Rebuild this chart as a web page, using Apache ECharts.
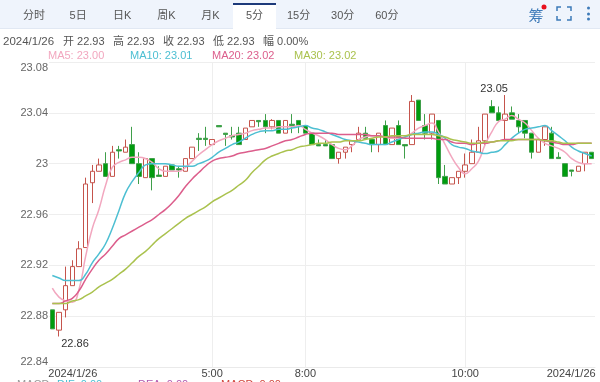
<!DOCTYPE html>
<html lang="en">
<head>
    <meta charset="UTF-8">
    <title>5分K线</title>
    <script src="https://cdn.jsdelivr.net/npm/echarts@6/dist/echarts.min.js"></script>
    <style>
        html, body { margin: 0; padding: 0; background: #fff; overflow: hidden; }
        #main { width: 600px; height: 382px; }
    </style>
</head>
<body>
    <div id="main"></div>
    <script>
        const opens = [
            22.885, 22.869, 22.885, 22.904, 22.919, 22.934, 22.985, 22.994, 23.000, 22.990,
            23.011, 23.009, 23.015, 23.000, 22.989, 23.004, 22.991, 22.990, 22.999, 22.996,
            22.994, 23.004, 23.020, 23.020, 23.015, 23.030, 23.024, 23.022, 23.024, 23.019,
            23.029, 23.034, 23.034, 23.029, 23.034, 23.024, 23.031, 23.034, 23.030, 23.024,
            23.015, 23.015, 23.015, 23.004, 23.009, 23.015, 23.019, 23.024, 23.019, 23.015,
            23.030, 23.015, 23.030, 23.015, 23.015, 23.050, 23.030, 23.024, 23.034, 22.990,
            22.984, 22.989, 22.994, 23.000, 23.009, 23.018, 23.045, 23.040, 23.034, 23.040,
            23.034, 23.034, 23.024, 23.009, 23.019, 23.024, 23.005, 23.000, 22.995, 22.994,
            23.000, 23.009
        ];
        const closes = [
            22.870, 22.883, 22.904, 22.919, 22.933, 22.984, 22.994, 22.999, 22.990, 23.009,
            23.010, 23.013, 23.000, 22.990, 23.004, 22.989, 22.990, 22.998, 22.995, 22.995,
            23.004, 23.013, 23.019, 23.019, 23.019, 23.029, 23.023, 23.021, 23.015, 23.028,
            23.034, 23.033, 23.029, 23.034, 23.024, 23.034, 23.030, 23.030, 23.024, 23.015,
            23.014, 23.014, 23.004, 23.009, 23.013, 23.018, 23.024, 23.020, 23.015, 23.024,
            23.015, 23.028, 23.015, 23.014, 23.049, 23.034, 23.024, 23.039, 22.989, 22.984,
            22.989, 22.994, 22.999, 23.009, 23.018, 23.039, 23.040, 23.034, 23.039, 23.035,
            23.029, 23.024, 23.009, 23.019, 23.029, 23.004, 23.004, 22.990, 22.994, 22.998,
            23.009, 23.004
        ];
        const lows = [
            22.870, 22.864, 22.879, 22.904, 22.919, 22.934, 22.969, 22.994, 22.990, 22.990,
            23.004, 23.009, 23.000, 22.984, 22.989, 22.979, 22.990, 22.990, 22.995, 22.989,
            22.994, 23.004, 23.010, 23.014, 23.015, 23.029, 23.014, 23.019, 23.015, 23.019,
            23.029, 23.029, 23.024, 23.027, 23.024, 23.024, 23.024, 23.024, 23.024, 23.015,
            23.014, 23.014, 23.004, 23.000, 23.004, 23.009, 23.019, 23.020, 23.009, 23.009,
            23.015, 23.015, 23.015, 23.004, 23.015, 23.034, 23.019, 23.019, 22.984, 22.984,
            22.984, 22.984, 22.989, 23.000, 23.009, 23.014, 23.040, 23.034, 23.018, 23.035,
            23.024, 23.020, 23.004, 23.009, 23.014, 23.004, 23.004, 22.990, 22.990, 22.994,
            22.994, 23.004
        ];
        const highs = [
            22.885, 22.883, 22.919, 22.924, 22.939, 22.989, 22.999, 23.004, 23.009, 23.014,
            23.014, 23.019, 23.029, 23.009, 23.004, 23.004, 22.998, 22.998, 22.999, 22.998,
            23.004, 23.013, 23.024, 23.029, 23.019, 23.030, 23.024, 23.029, 23.029, 23.028,
            23.034, 23.034, 23.039, 23.035, 23.034, 23.034, 23.039, 23.034, 23.030, 23.024,
            23.019, 23.019, 23.015, 23.009, 23.013, 23.018, 23.029, 23.029, 23.019, 23.024,
            23.034, 23.028, 23.034, 23.015, 23.054, 23.050, 23.039, 23.039, 23.034, 22.999,
            22.989, 22.994, 23.008, 23.019, 23.029, 23.039, 23.050, 23.045, 23.054, 23.045,
            23.039, 23.034, 23.024, 23.019, 23.029, 23.029, 23.009, 23.000, 22.995, 22.998,
            23.009, 23.009
        ];
        const ma5 = [
            22.902, 22.895, 22.892, 22.891, 22.901, 22.927, 22.949, 22.964, 22.983, 22.997,
            23.001, 23.003, 23.005, 23.005, 23.004, 23.001, 22.996, 22.994, 22.994, 22.994,
            22.997, 23.002, 23.007, 23.011, 23.015, 23.018, 23.020, 23.022, 23.023, 23.024,
            23.026, 23.027, 23.028, 23.028, 23.029, 23.029, 23.029, 23.030, 23.027, 23.024,
            23.022, 23.019, 23.015, 23.012, 23.011, 23.014, 23.019, 23.021, 23.022, 23.022,
            23.021, 23.020, 23.020, 23.021, 23.024, 23.028, 23.030, 23.032, 23.025, 23.015,
            23.005, 22.997, 22.992, 22.996, 23.002, 23.015, 23.025, 23.033, 23.035, 23.038,
            23.035, 23.032, 23.026, 23.020, 23.016, 23.014, 23.012, 23.009, 23.004, 23.001,
            23.000, 23.000
        ];
        const ma10 = [
            22.912, 22.910, 22.908, 22.908, 22.908, 22.913, 22.922, 22.929, 22.937, 22.949,
            22.963, 22.977, 22.986, 22.993, 22.999, 23.000, 23.000, 23.000, 22.999, 22.998,
            22.998, 22.998, 23.000, 23.002, 23.005, 23.009, 23.012, 23.015, 23.017, 23.020,
            23.023, 23.025, 23.026, 23.026, 23.027, 23.027, 23.028, 23.029, 23.030, 23.028,
            23.027, 23.025, 23.023, 23.021, 23.019, 23.018, 23.017, 23.016, 23.015, 23.015,
            23.015, 23.017, 23.019, 23.021, 23.023, 23.024, 23.025, 23.025, 23.023, 23.020,
            23.015, 23.013, 23.012, 23.010, 23.009, 23.008, 23.009, 23.010, 23.015, 23.020,
            23.024, 23.027, 23.028, 23.029, 23.030, 23.026, 23.022, 23.018, 23.013, 23.010,
            23.008, 23.006
        ];
        const ma20 = [
            22.890, 22.890, 22.892, 22.894, 22.900, 22.909, 22.917, 22.924, 22.929, 22.935,
            22.941, 22.944, 22.947, 22.950, 22.953, 22.956, 22.960, 22.964, 22.969, 22.975,
            22.982, 22.988, 22.993, 22.998, 23.002, 23.004, 23.005, 23.006, 23.008, 23.009,
            23.010, 23.011, 23.012, 23.014, 23.016, 23.018, 23.019, 23.021, 23.023, 23.024,
            23.024, 23.024, 23.024, 23.023, 23.023, 23.023, 23.023, 23.023, 23.022, 23.022,
            23.021, 23.021, 23.021, 23.020, 23.020, 23.020, 23.020, 23.020, 23.019, 23.019,
            23.017, 23.016, 23.016, 23.015, 23.016, 23.016, 23.017, 23.018, 23.019, 23.019,
            23.019, 23.019, 23.019, 23.019, 23.018, 23.017, 23.016, 23.015, 23.015, 23.016,
            23.016, 23.016
        ];
        const ma30 = [
            22.890, 22.890, 22.890, 22.892, 22.893, 22.896, 22.899, 22.903, 22.906, 22.909,
            22.913, 22.917, 22.922, 22.927, 22.931, 22.936, 22.941, 22.945, 22.949, 22.953,
            22.957, 22.960, 22.963, 22.966, 22.970, 22.973, 22.976, 22.979, 22.983, 22.987,
            22.993, 22.998, 23.003, 23.006, 23.008, 23.010, 23.011, 23.013, 23.014, 23.015,
            23.016, 23.016, 23.017, 23.017, 23.018, 23.018, 23.018, 23.019, 23.020, 23.021,
            23.021, 23.022, 23.022, 23.022, 23.023, 23.023, 23.023, 23.023, 23.022, 23.021,
            23.019, 23.018, 23.017, 23.016, 23.016, 23.017, 23.017, 23.018, 23.018, 23.018,
            23.019, 23.019, 23.019, 23.019, 23.018, 23.018, 23.017, 23.016, 23.016, 23.016,
            23.016, 23.016
        ];
        // x轴标签: 下标 -> 文字
        const timeLabels = { 0: '2024/1/26', 24: '5:00', 38: '8:00', 62: '10:00', 81: '2024/1/26' };
        const gridLineIndexes = [24, 38, 62];
        const tabs = ['分时', '5日', '日K', '周K', '月K', '5分', '15分', '30分', '60分'];
        const activeTab = '5分';
        const quoteItems = ['开 22.93', '高 22.93', '收 22.93', '低 22.93', '幅 0.00%'];
        const quoteDate = '2024/1/26';
        const maLegend = ['MA5: 23.00', 'MA10: 23.01', 'MA20: 23.02', 'MA30: 23.02'];
        const macdLegend = ['MACD', 'DIF: 0.00', 'DEA: 0.00', 'MACD: 0.00'];

        const FONT = '"Liberation Sans","Noto Sans CJK SC",sans-serif';
        const maColors = ['#f2a7bf', '#4dbfd2', '#dc5e8c', '#aac24e'];
        const macdColors = ['#999999', '#4dbfd2', '#b05ab0', '#d0443c'];
        const categories = opens.map((_, i) => timeLabels[i] || String(i));
        const candles = opens.map((o, i) => [o, closes[i], lows[i], highs[i]]);

        // 顶部tab和图例都放到graphic里
        const graphics = [
            { type: 'rect', shape: { x: 0, y: 0, width: 600, height: 28 }, style: { fill: '#eff4fc' } },
            { type: 'rect', shape: { x: 0, y: 28, width: 600, height: 1 }, style: { fill: '#e1e8f3' } }
        ];
        tabs.forEach((t, i) => {
            const cx = 34 + i * 44.1;
            if (t === activeTab) {
                graphics.push({ type: 'rect', shape: { x: cx - 21.5, y: 3, width: 43, height: 26 }, style: { fill: '#fff' } });
                graphics.push({ type: 'rect', shape: { x: cx - 21.5, y: 3, width: 43, height: 2 }, style: { fill: '#1d3a7a' } });
            }
            graphics.push({ type: 'text', style: { text: t, x: cx, y: 16, fill: '#555', font: '11px ' + FONT, textAlign: 'center', textVerticalAlign: 'middle' } });
        });
        // 右上角图标
        graphics.push({ type: 'text', style: { text: '筹', x: 536, y: 15, fill: '#3d7ab8', font: '15px "Noto Sans CJK SC"', textAlign: 'center', textVerticalAlign: 'middle' } });
        graphics.push({ type: 'circle', shape: { cx: 544, cy: 7, r: 2.5 }, style: { fill: '#e8101c' } });
        [[557, 11, 557, 7, 561, 7], [567, 7, 571, 7, 571, 11], [571, 16, 571, 20, 567, 20], [561, 20, 557, 20, 557, 16]].forEach(c => {
            graphics.push({ type: 'polyline', shape: { points: [[c[0], c[1]], [c[2], c[3]], [c[4], c[5]]] }, style: { stroke: '#3d7ab8', lineWidth: 1.5, fill: null } });
        });
        [8, 14, 19].forEach(cy => {
            graphics.push({ type: 'circle', shape: { cx: 588.5, cy: cy, r: 1.5 }, style: { fill: '#3d7ab8' } });
        });
        // 行情一行
        graphics.push({ type: 'text', style: { text: quoteDate, x: 3, y: 42, fill: '#555', font: '11.5px ' + FONT, textVerticalAlign: 'middle' } });
        quoteItems.forEach((t, i) => {
            graphics.push({ type: 'text', style: { text: t, x: 63 + i * 50, y: 42, fill: '#555', font: '11px ' + FONT, textVerticalAlign: 'middle' } });
        });
        maLegend.forEach((t, i) => {
            graphics.push({ type: 'text', style: { text: t, x: 48 + i * 82, y: 55.5, fill: maColors[i], font: '11px ' + FONT, textVerticalAlign: 'middle' } });
        });
        // 底部MACD被裁掉一半
        [17, 57, 138, 221].forEach((x, i) => {
            graphics.push({ type: 'text', style: { text: macdLegend[i], x: x, y: 385, fill: macdColors[i], font: '11px ' + FONT, textVerticalAlign: 'middle' } });
        });

        const maSeries = [ma5, ma10, ma20, ma30].map((d, i) => ({
            name: 'MA' + [5, 10, 20, 30][i],
            type: 'line',
            data: d,
            smooth: true,
            showSymbol: false,
            silent: true,
            lineStyle: { color: maColors[i], width: 1.5 },
            z: 3 + i
        }));

        const labelText = { color: '#444', fontFamily: FONT, fontSize: 11 };
        const myChart = echarts.init(document.getElementById('main'), null, { renderer: 'canvas' });
        myChart.setOption({
            animation: false,
            backgroundColor: '#fff',
            graphic: { elements: graphics },
            grid: { left: 49, right: 5, top: 62, bottom: 15 },
            xAxis: {
                type: 'category',
                data: categories,
                boundaryGap: true,
                axisLine: { lineStyle: { color: '#eaeaea' } },
                axisTick: { show: false, alignWithLabel: true },
                axisLabel: {
                    ...labelText,
                    margin: 1,
                    hideOverlap: false,
                    interval: (i) => timeLabels[i] !== undefined,
                    // 两端的日期往里收
                    formatter: (v, i) => {
                        if (i === 0) return '{first|' + timeLabels[i] + '}';
                        if (i === opens.length - 1) return '{last|' + timeLabels[i] + '}';
                        return timeLabels[i] || '';
                    },
                    rich: {
                        first: { ...labelText, padding: [0, 0, 0, 41] },
                        last: { ...labelText, padding: [0, 41, 0, 0] }
                    }
                },
                splitLine: {
                    show: true,
                    alignWithLabel: true,
                    interval: (i) => gridLineIndexes.includes(i),
                    lineStyle: { color: '#eeeeee' }
                }
            },
            yAxis: {
                type: 'value',
                min: 22.84,
                max: 23.08,
                interval: 0.04,
                axisLine: { show: false },
                axisTick: { show: false },
                axisLabel: {
                    color: '#666',
                    fontFamily: FONT,
                    fontSize: 11,
                    margin: 1,
                    verticalAlignMinLabel: 'bottom',
                    verticalAlignMaxLabel: 'top',
                    formatter: (v) => String(Number(v.toFixed(2)))
                },
                splitLine: { lineStyle: { color: '#eeeeee' } }
            },
            series: [{
                name: 'K',
                type: 'candlestick',
                data: candles,
                barWidth: 5,
                itemStyle: {
                    color: '#ffffff',
                    color0: '#009c0e',
                    borderColor: '#c5544c',
                    borderColor0: '#3f9f4a',
                    borderWidth: 1
                },
                markPoint: {
                    symbol: 'circle',
                    symbolSize: 0,
                    silent: true,
                    label: { color: '#333', fontFamily: FONT, fontSize: 11, show: true, position: 'inside' },
                    data: [
                        { coord: [68, 23.054], value: '23.05', label: { offset: [-11, -6] } },
                        { coord: [1, 22.864], value: '22.86', label: { offset: [16, 7] } }
                    ]
                }
            }].concat(maSeries)
        });
    </script>
</body>
</html>
